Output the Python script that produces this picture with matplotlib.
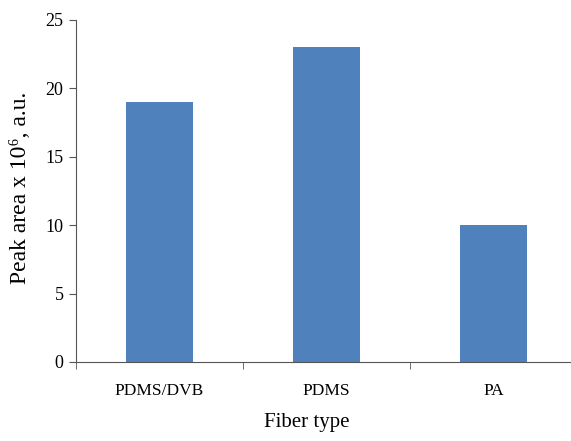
import matplotlib
matplotlib.use("Agg")
import matplotlib.pyplot as plt
from matplotlib.ticker import FixedLocator

fibers = ["PDMS/DVB", "PDMS", "PA"]
peak_area = [19, 23, 10]
y_ticks = [0, 5, 10, 15, 20, 25]

plt.rcParams["font.family"] = ["Liberation Serif", "DejaVu Serif"]

fig = plt.figure(figsize=(5.71, 4.41), dpi=100)
ax = fig.add_axes([76 / 571, 1 - 362 / 441, 501 / 571, 342 / 441])

x = list(range(len(fibers)))
ax.bar(x, peak_area, width=0.4, color="#4f81bd", zorder=2)

ax.set_xlim(-0.5, len(fibers) - 0.5)
ax.set_ylim(0, 25)
ax.set_yticks(y_ticks)
ax.set_xticks(x)
ax.set_xticklabels(fibers, fontsize=12.5)
ax.tick_params(axis="x", which="major", length=0, pad=15)
ax.xaxis.set_minor_locator(FixedLocator([-0.5 + i for i in range(len(fibers))]))
ax.tick_params(axis="x", which="minor", length=5, color="#555555")
ax.tick_params(axis="y", length=5, color="#555555", labelsize=13, pad=4)

for s in ["top", "right"]:
    ax.spines[s].set_visible(False)
ax.spines["left"].set_color("#555555")
ax.spines["bottom"].set_color("#555555")

ax.set_xlabel("Fiber type", fontsize=15)
ax.xaxis.set_label_coords(0.461, -0.15)
ax.set_ylabel("Peak area x 10\u2076, a.u.", fontsize=17)
ax.yaxis.set_label_coords(-0.09, 0.51)

fig.savefig("out.png", dpi=100)
